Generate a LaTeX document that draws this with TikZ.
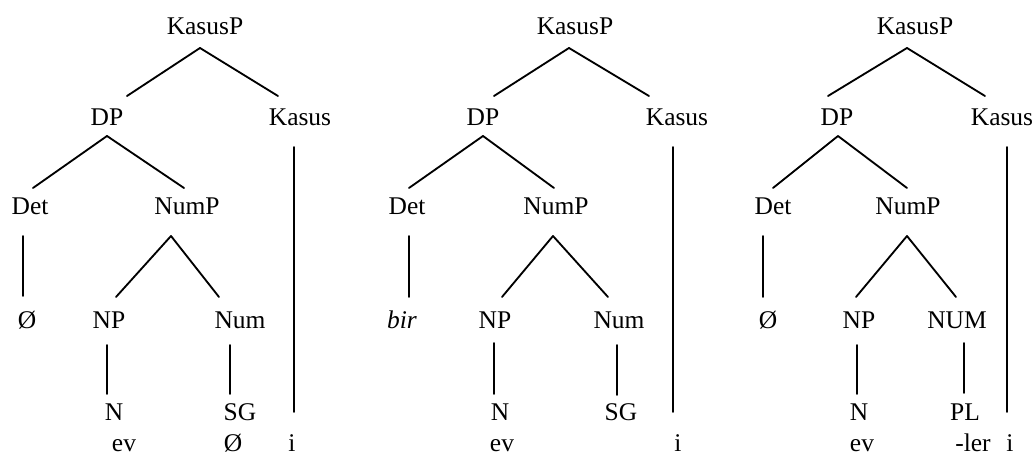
\documentclass[tikz,border=0pt]{standalone}
\usepackage{fontspec}
\setmainfont{Liberation Serif}
\usepackage{tikz}
\usetikzlibrary{positioning}
\tikzstyle{cat} = [anchor=base, inner sep=0pt, font=\fontsize{14.5}{17}\selectfont]
\tikzstyle{branch} = [line width=1.05pt, line cap=round]

\begin{document}
\begin{tikzpicture}[x=0.02cm, y=-0.02cm]
\useasboundingbox (0,0) rectangle (1036,455);

% first tree
\node[cat] (kp1) at (205,35) {KasusP};
\node[cat] (dp1) at (107,126) {DP};
\node[cat] (ka1) at (300,126) {Kasus};
\node[cat] (det1) at (30,215) {Det};
\node[cat] (nump1) at (187,215) {NumP};
\node[cat] (z1) at (27,329) {Ø};
\node[cat] (np1) at (109,329) {NP};
\node[cat] (num1) at (240,329) {Num};
\node[cat] (n1) at (114,421) {N};
\node[cat] (sg1) at (240,421) {SG};
\node[cat] (ev1) at (124,452) {ev};
\node[cat] (zs1) at (233,452) {Ø};
\node[cat] (i1) at (292,452) {i};

\draw[branch] ([shift={(-5,13)}]kp1.base) -- ([shift={(20,-30)}]dp1.base);
\draw[branch] ([shift={(-5,13)}]kp1.base) -- ([shift={(-22,-30)}]ka1.base);
\draw[branch] ([shift={(0,10)}]dp1.base) -- ([shift={(3,-27)}]det1.base);
\draw[branch] ([shift={(0,10)}]dp1.base) -- ([shift={(-3,-27)}]nump1.base);
\draw[branch] ([shift={(-7,21)}]det1.base) -- ([shift={(-4,-33)}]z1.base);
\draw[branch] ([shift={(-16,21)}]nump1.base) -- ([shift={(7,-32)}]np1.base);
\draw[branch] ([shift={(-16,21)}]nump1.base) -- ([shift={(-21,-32)}]num1.base);
\draw[branch] ([shift={(-2,16)}]np1.base) -- ([shift={(-7,-27)}]n1.base);
\draw[branch] ([shift={(-10,16)}]num1.base) -- ([shift={(-10,-27)}]sg1.base);
\draw[branch] ([shift={(-6,21)}]ka1.base) -- ([shift={(2,-40)}]i1.base);

% second tree
\node[cat] (kp2) at (575,35) {KasusP};
\node[cat] (dp2) at (483,126) {DP};
\node[cat] (ka2) at (677,126) {Kasus};
\node[cat] (det2) at (407,215) {Det};
\node[cat] (nump2) at (556,215) {NumP};
\node[cat] (bir2) at (402,329) {\itshape bir};
\node[cat] (np2) at (495,329) {NP};
\node[cat] (num2) at (619,329) {Num};
\node[cat] (n2) at (500,421) {N};
\node[cat] (sg2) at (621,421) {SG};
\node[cat] (ev2) at (502,452) {ev};
\node[cat] (i2) at (678,452) {i};

\draw[branch] ([shift={(-6,13)}]kp2.base) -- ([shift={(11,-30)}]dp2.base);
\draw[branch] ([shift={(-6,13)}]kp2.base) -- ([shift={(-28,-30)}]ka2.base);
\draw[branch] ([shift={(0,10)}]dp2.base) -- ([shift={(2,-27)}]det2.base);
\draw[branch] ([shift={(0,10)}]dp2.base) -- ([shift={(-2,-27)}]nump2.base);
\draw[branch] ([shift={(2,21)}]det2.base) -- ([shift={(7,-32)}]bir2.base);
\draw[branch] ([shift={(-3,21)}]nump2.base) -- ([shift={(7,-32)}]np2.base);
\draw[branch] ([shift={(-3,21)}]nump2.base) -- ([shift={(-11,-32)}]num2.base);
\draw[branch] ([shift={(-1,14)}]np2.base) -- ([shift={(-6,-27)}]n2.base);
\draw[branch] ([shift={(-2,16)}]num2.base) -- ([shift={(-4,-26)}]sg2.base);
\draw[branch] ([shift={(-4,21)}]ka2.base) -- ([shift={(-5,-40)}]i2.base);

% third tree
\node[cat] (kp3) at (915,35) {KasusP};
\node[cat] (dp3) at (837,126) {DP};
\node[cat] (ka3) at (1002,126) {Kasus};
\node[cat] (det3) at (773,215) {Det};
\node[cat] (nump3) at (908,215) {NumP};
\node[cat] (z3) at (768,329) {Ø};
\node[cat] (np3) at (859,329) {NP};
\node[cat] (num3) at (957,329) {NUM};
\node[cat] (n3) at (859,421) {N};
\node[cat] (pl3) at (965,421) {PL};
\node[cat] (ev3) at (862,452) {ev};
\node[cat] (ler3) at (973,452) {-ler};
\node[cat] (i3) at (1010,452) {i};

\draw[branch] ([shift={(-8,13)}]kp3.base) -- ([shift={(-9,-30)}]dp3.base);
\draw[branch] ([shift={(-8,13)}]kp3.base) -- ([shift={(-17,-30)}]ka3.base);
\draw[branch] ([shift={(1,10)}]dp3.base) -- ([shift={(0,-27)}]det3.base);
\draw[branch] ([shift={(1,10)}]dp3.base) -- ([shift={(-1,-27)}]nump3.base);
\draw[branch] ([shift={(-10,21)}]det3.base) -- ([shift={(-5,-32)}]z3.base);
\draw[branch] ([shift={(-1,21)}]nump3.base) -- ([shift={(-3,-32)}]np3.base);
\draw[branch] ([shift={(-1,21)}]nump3.base) -- ([shift={(-1,-32)}]num3.base);
\draw[branch] ([shift={(-2,16)}]np3.base) -- ([shift={(-2,-27)}]n3.base);
\draw[branch] ([shift={(7,14)}]num3.base) -- ([shift={(-1,-28)}]pl3.base);
\draw[branch] ([shift={(5,21)}]ka3.base) -- ([shift={(-3,-40)}]i3.base);
\end{tikzpicture}
\end{document}
